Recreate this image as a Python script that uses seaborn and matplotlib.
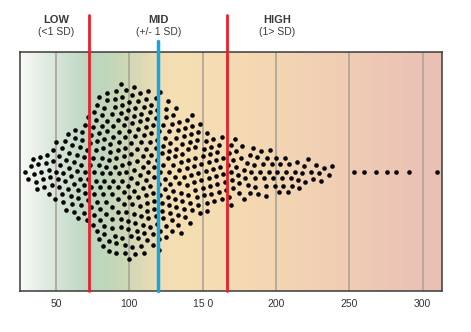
import matplotlib
matplotlib.use("Agg")
import matplotlib.pyplot as plt
from matplotlib.colors import LinearSegmentedColormap
import numpy as np
import pandas as pd
import seaborn as sns

# Scores below one SD under the mean
low_scores = [
    29, 31, 33, 34, 35, 36, 37, 38, 39,
    40, 41, 42, 43, 44, 45, 45, 46, 47, 48, 48, 49,
    50, 50, 51, 52, 52, 53, 54, 54, 55, 55, 56, 56, 57, 57, 58, 58, 59, 59,
    60, 60, 61, 61, 62, 62, 62, 63, 63, 64, 64, 65, 65, 65, 66, 66, 67, 67,
    68, 68, 69, 69, 69,
    70, 70, 70, 71, 71, 72, 72, 72, 73,
]

# Scores within one SD of the mean
mid_scores = [
    73, 74, 74, 74, 75, 75, 75, 76, 76, 76, 76, 77, 77, 77, 78, 78, 78, 78,
    79, 79, 79, 79,
    80, 80, 80, 81, 81, 81, 81, 82, 82, 82, 83, 83, 83, 83, 83, 84, 84, 84,
    85, 85, 85, 85, 86, 86, 86, 86, 87, 87, 87, 88, 88, 88, 88, 88, 89, 89, 89,
    90, 90, 90, 90, 91, 91, 91, 91, 92, 92, 92, 92, 92, 93, 93, 93,
    94, 94, 94, 94, 95, 95, 95, 95, 95, 96, 96, 96, 96, 97, 97, 97, 97,
    98, 98, 98, 98, 99, 99, 99, 99,
    100, 100, 100, 100, 100, 101, 101, 101, 101, 102, 102, 102, 102,
    103, 103, 103, 103, 103, 104, 104, 104, 104, 105, 105, 105, 105,
    106, 106, 106, 106, 107, 107, 107, 107, 108, 108, 108, 108, 109, 109, 109, 109,
    110, 110, 110, 110, 111, 111, 111, 111, 111, 112, 112, 112, 112,
    113, 113, 113, 113, 114, 114, 114, 114, 115, 115, 115, 116, 116, 116, 116,
    117, 117, 117, 117, 118, 118, 118, 118, 119, 119, 119, 119,
    120, 120, 120, 120, 121, 121, 121, 121, 122, 122, 122, 123, 123, 123, 123,
    124, 124, 124, 125, 125, 125, 125, 126, 126, 126, 127, 127, 127, 127,
    128, 128, 128, 129, 129, 129,
    130, 130, 130, 131, 131, 131, 132, 132, 132, 132, 133, 133, 133,
    134, 134, 134, 135, 135, 135, 136, 136, 136, 137, 137, 137, 138, 138,
    139, 139, 139,
    140, 140, 140, 141, 141, 141, 142, 142, 143, 143, 143, 144, 144,
    145, 145, 145, 146, 146, 147, 147, 147, 148, 148, 149, 149,
    150, 150, 151, 151, 152, 152, 153, 153, 153, 154, 154, 155, 155,
    156, 156, 157, 157, 158, 159, 159,
    160, 160, 161, 161, 162, 163, 163, 164, 164, 165, 166, 167,
]

# Scores above one SD over the mean
high_scores = [
    168, 168, 169, 169, 169,
    170, 171, 171, 172, 173, 173, 174, 175, 175, 176, 177, 178, 178, 179,
    180, 181, 182, 182, 183, 184, 185, 186, 186, 187, 188, 189,
    190, 191, 192, 193, 193, 194, 195, 196, 197, 198, 199,
    200, 201, 202, 203, 204, 205, 206, 207, 208, 209,
    210, 211, 213, 214, 215, 216, 218, 219,
    220, 222, 224, 225, 227, 229,
    231, 233, 236, 238,
    253, 260, 268, 276, 282, 291, 310,
]

mean_score = 119.8
sd_score = 47.1

tick_values = [50, 100, 150, 200, 250, 300]
tick_labels = ["50", "100", "15 0", "200", "250", "300"]

band_titles = ["LOW", "MID", "HIGH"]
band_notes = ["(<1 SD)", "(+/- 1 SD)", "(1> SD)"]
band_centers = [50, 119.8, 201]

sns.set_theme(style="white")
plt.rcParams["font.family"] = ["Liberation Sans", "DejaVu Sans"]

fig = plt.figure(figsize=(4.71, 3.32), dpi=100)
ax = fig.add_axes([20 / 471, 41 / 332, 422 / 471, 239 / 332])

scores = pd.DataFrame({"score": low_scores + mid_scores + high_scores})

# Small black dots; the transparent edge widens the spacing between them
sns.swarmplot(
    data=scores, x="score", ax=ax, color="black", size=3.3,
    linewidth=2.15, edgecolor=(0, 0, 0, 0), zorder=3, warn_thresh=1,
)

# Green -> sand -> rose background
bg_cmap = LinearSegmentedColormap.from_list("band", [
    (0.00, "#f9faf7"), (0.05, "#e4ede4"), (0.10, "#d1e2d4"),
    (0.16, "#bcd7c0"), (0.20, "#bfd6bb"), (0.24, "#cad7b6"),
    (0.29, "#dddab5"), (0.33, "#f0ddb3"), (0.37, "#f6dfb3"),
    (0.50, "#f5dbb2"), (0.66, "#f2d3b3"), (0.80, "#efcbb4"),
    (0.91, "#ecc4b4"), (1.00, "#eabfb5"),
])
ax.imshow(np.linspace(0, 1, 512)[None, :], cmap=bg_cmap, aspect="auto",
          extent=(0, 1, 0, 1), transform=ax.transAxes, zorder=0,
          interpolation="bilinear")

ax.set_xlim(25.4, 313.2)
ax.set_ylim(0.5, -0.5)

ax.set_xticks(tick_values, tick_labels)
ax.set_yticks([])
ax.set_xlabel("")
ax.set_ylabel("")
ax.grid(axis="x", color="#b0a898", linewidth=1.3, zorder=1)
ax.set_axisbelow(True)
ax.tick_params(axis="x", direction="in", length=3.5, width=1.5,
               color="#222222", labelsize=7.5, labelcolor="#333333", pad=6)
for spine in ax.spines.values():
    spine.set_visible(True)
    spine.set_color("#3a3a3a")
    spine.set_linewidth(1.1)

# Mean and +/- one SD markers
ax.axvline(mean_score - sd_score, ymin=0, ymax=1.155, color="#e8202a",
           linewidth=2, clip_on=False, zorder=4)
ax.axvline(mean_score + sd_score, ymin=0, ymax=1.155, color="#e8202a",
           linewidth=2, clip_on=False, zorder=4)
ax.axvline(mean_score, ymin=0, ymax=1.046, color="#17a5e0",
           linewidth=2.5, clip_on=False, zorder=4)

xform = ax.get_xaxis_transform()
for title, note, cx in zip(band_titles, band_notes, band_centers):
    ax.text(cx, 1.134, title, transform=xform, ha="center", va="center",
            fontsize=8, fontweight="bold", color="#3a3a3a", clip_on=False)
    ax.text(cx, 1.084, note, transform=xform, ha="center", va="center",
            fontsize=7.5, color="#3a3a3a", clip_on=False)

fig.savefig("out.png", dpi=100)
